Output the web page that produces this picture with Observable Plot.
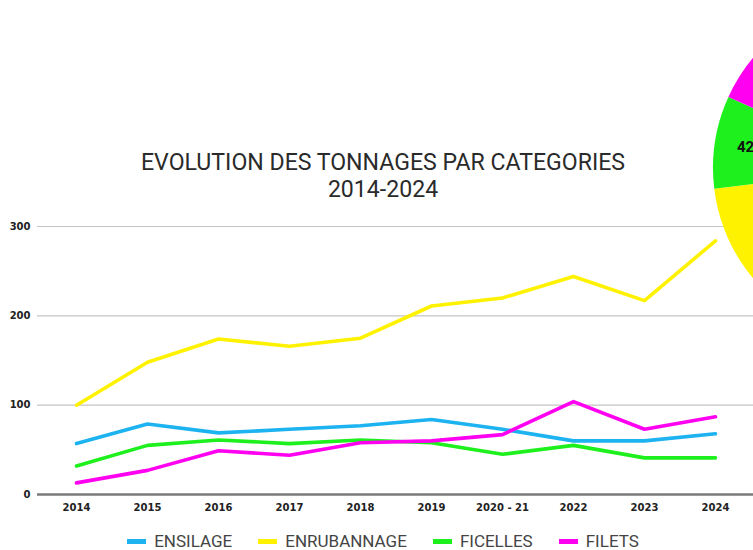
<!DOCTYPE html>
<html>
<head>
<meta charset="utf-8">
<script src="https://cdn.jsdelivr.net/npm/d3@7"></script>
<script src="https://cdn.jsdelivr.net/npm/@observablehq/plot@0.6"></script>
<style>
  html, body { margin: 0; padding: 0; background: #fff; }
  #wrap { position: relative; width: 753px; height: 550px; overflow: hidden; }
  #title { position: absolute; left: 0; width: 766px; top: 149px; text-align: center;
           font-family: Roboto, sans-serif; font-size: 23.1px; line-height: 27px; color: #2a2a2a; }
  #chart { position: absolute; left: 0; top: 0; }
  #pie { position: absolute; left: 0; top: 0; }
  #legend { position: absolute; left: 0; width: 766px; top: 531px; display: flex; justify-content: center;
            font-family: Roboto, sans-serif; font-size: 17px; color: #444; }
  .item { display: flex; align-items: center; margin: 0 13px; }
  .sw { width: 19px; height: 5px; margin-right: 8px; }
</style>
</head>
<body>
<div id="wrap">
  <div id="chart"></div>
  <div id="title">EVOLUTION DES TONNAGES PAR CATEGORIES<br>2014-2024</div>
  <div id="legend"></div>
  <svg id="pie" width="753" height="550"></svg>
</div>
<script>
const categories = ["2014","2015","2016","2017","2018","2019","2020 - 21","2022","2023","2024"];
const seriesNames = ["ENSILAGE","ENRUBANNAGE","FICELLES","FILETS"];
const seriesColors = ["#1cb3f0","#fff200","#1ef01e","#ff00f0"];
const ensilage    = [57, 79, 69, 73, 77, 84, 73, 60, 60, 68];
const enrubannage = [100,148,174,166,175,211,220,244,217,284];
const ficelles    = [32, 55, 61, 57, 61, 58, 45, 55, 41, 41];
const filets      = [13, 27, 49, 44, 58, 60, 67,104, 73, 87];
const yTicks = [0,100,200,300];
// pie (2024 breakdown, mostly cropped)
const pieValues = [69, 284, 42, 88];
const pieLabels = ["69","284","42","88"];

const allSeries = [ensilage, enrubannage, ficelles, filets];
const rows = [];
seriesNames.forEach((s, i) => categories.forEach((c, j) => rows.push({cat: c, serie: s, value: allSeries[i][j]})));

const plot = Plot.plot({
  width: 753,
  height: 550,
  marginLeft: 37,
  marginRight: 0,
  marginTop: 0,
  marginBottom: 56,
  style: {background: "transparent", fontFamily: "'DejaVu Sans', sans-serif"},
  x: {type: "point", domain: categories, range: [72, 719], padding: 0, label: null},
  y: {domain: [0, 300], range: [494, 226], label: null},
  color: {domain: seriesNames, range: seriesColors},
  marks: [
    Plot.ruleY(yTicks.filter(d => d > 0), {stroke: "#c4c4c4", strokeWidth: 1.2}),
    Plot.axisY(yTicks, {tickSize: 0, tickPadding: 7, fontSize: 10, fontWeight: "bold", fill: "#222", label: null}),
    Plot.axisX({tickSize: 0, tickPadding: 9, fontSize: 10, fontWeight: "bold", fill: "#222", label: null}),
    Plot.line(rows, {x: "cat", y: "value", z: "serie", stroke: "serie", strokeWidth: 3.6, curve: "linear", strokeLinejoin: "round"}),
    Plot.ruleY([0], {stroke: "#7a7a7a", strokeWidth: 2.6})
  ]
});
document.getElementById("chart").appendChild(plot);

// legend
const leg = document.getElementById("legend");
seriesNames.forEach((s, i) => {
  const it = document.createElement("div");
  it.className = "item";
  it.innerHTML = `<div class="sw" style="background:${seriesColors[i]}"></div><span>${s}</span>`;
  leg.appendChild(it);
});

// pie (partially visible at top right)
const svg = d3.select("#pie");
const cx = 885, cy = 168, r = 172;
const g = svg.append("g").attr("transform", `translate(${cx},${cy})`);
const arcs = d3.pie().sort(null)(pieValues);
const arc = d3.arc().innerRadius(0).outerRadius(r);
const labelArc = d3.arc().innerRadius(r * 0.82).outerRadius(r * 0.82);
g.selectAll("path").data(arcs).join("path")
  .attr("d", arc)
  .attr("fill", (d, i) => seriesColors[i]);
// only labels whose anchor lies inside the visible page
const visibleArcs = arcs.filter(d => cx + labelArc.centroid(d)[0] < 753);
g.selectAll("text").data(visibleArcs).join("text")
  .attr("transform", d => `translate(${labelArc.centroid(d)})`)
  .attr("text-anchor", "middle")
  .attr("dy", "0.35em")
  .attr("font-family", "Roboto, sans-serif")
  .attr("font-weight", "bold")
  .attr("font-size", 15)
  .attr("fill", "#111")
  .text(d => pieLabels[d.index]);
</script>
</body>
</html>
